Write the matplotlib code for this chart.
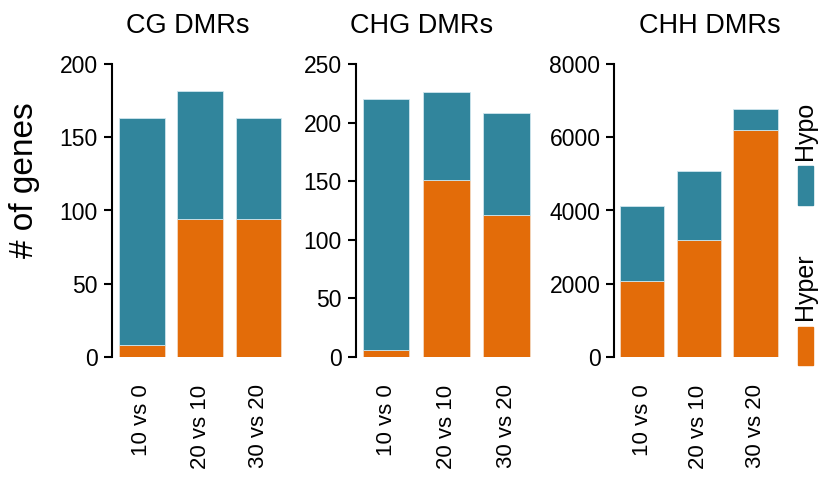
import matplotlib
matplotlib.use("Agg")
import matplotlib.pyplot as plt
from matplotlib.patches import Rectangle

plt.rcParams['font.family'] = ['Liberation Sans', 'DejaVu Sans']

comparisons = ["10 vs 0", "20 vs 10", "30 vs 20"]
panel_titles = ["CG DMRs", "CHG DMRs", "CHH DMRs"]

cg_hyper = [8, 94, 94]
cg_hypo = [155, 88, 69]
chg_hyper = [6, 151, 121]
chg_hypo = [214, 75, 87]
chh_hyper = [2080, 3190, 6200]
chh_hypo = [2040, 1900, 580]

cg_ticks = [0, 50, 100, 150, 200]
chg_ticks = [0, 50, 100, 150, 200, 250]
chh_ticks = [0, 2000, 4000, 6000, 8000]

hyper_color = "#E36C09"
hypo_color = "#31859C"

W, H = 824, 491


def px(left, top, width, height):
    return [left / W, 1 - (top + height) / H, width / W, height / H]


fig = plt.figure(figsize=(W / 100, H / 100), dpi=100)

# axes placement in pixels: (left, width, xlim left)
layout = [(111.7, 177, -0.516), (355.7, 182, -0.505), (614.3, 172, -0.489)]
data = [(cg_hyper, cg_hypo, cg_ticks),
        (chg_hyper, chg_hypo, chg_ticks),
        (chh_hyper, chh_hypo, chh_ticks)]
title_x = [188, 422, 710]

x = list(range(len(comparisons)))
for (left, width, x0), (hyper, hypo, ticks), title, tx in zip(layout, data, panel_titles, title_x):
    ax = fig.add_axes(px(left, 64.3, width, 292.4))
    ax.bar(x, hyper, width=0.78, color=hyper_color, edgecolor="#f3d8c0", linewidth=0.6)
    ax.bar(x, hypo, bottom=hyper, width=0.78, color=hypo_color, edgecolor="#cfe6ee", linewidth=0.6)
    ax.set_xlim(x0, x0 + 3.03)
    ax.set_ylim(0, ticks[-1])
    ax.set_yticks(ticks)
    ax.set_xticks(x)
    ax.set_xticklabels(comparisons, rotation=90, fontsize=16)
    ax.tick_params(axis="x", length=0, pad=20)
    ax.tick_params(axis="y", length=6, width=1.5, labelsize=16.5, pad=4)
    for s in ["top", "right", "bottom"]:
        ax.spines[s].set_visible(False)
    ax.spines["left"].set_linewidth(1.5)
    ax.spines["left"].set_bounds(0, ticks[-1])
    fig.text(tx / W, 1 - 33 / H, title, ha="center", va="baseline", fontsize=19.5)

fig.text(25 / W, 1 - 180 / H, "# of genes", rotation=90, ha="center", va="center", fontsize=24)

# legend on the right
lax = fig.add_axes([0, 0, 1, 1])
lax.set_xlim(0, W)
lax.set_ylim(H, 0)
lax.axis("off")
lax.add_patch(Rectangle((798, 166), 15, 39, color=hypo_color))
lax.add_patch(Rectangle((798, 327), 15, 38, color=hyper_color))
lax.text(805, 160, "Hypo", rotation=90, ha="center", va="bottom", fontsize=18)
lax.text(805, 320, "Hyper", rotation=90, ha="center", va="bottom", fontsize=18)

fig.savefig("out.png", dpi=100)
